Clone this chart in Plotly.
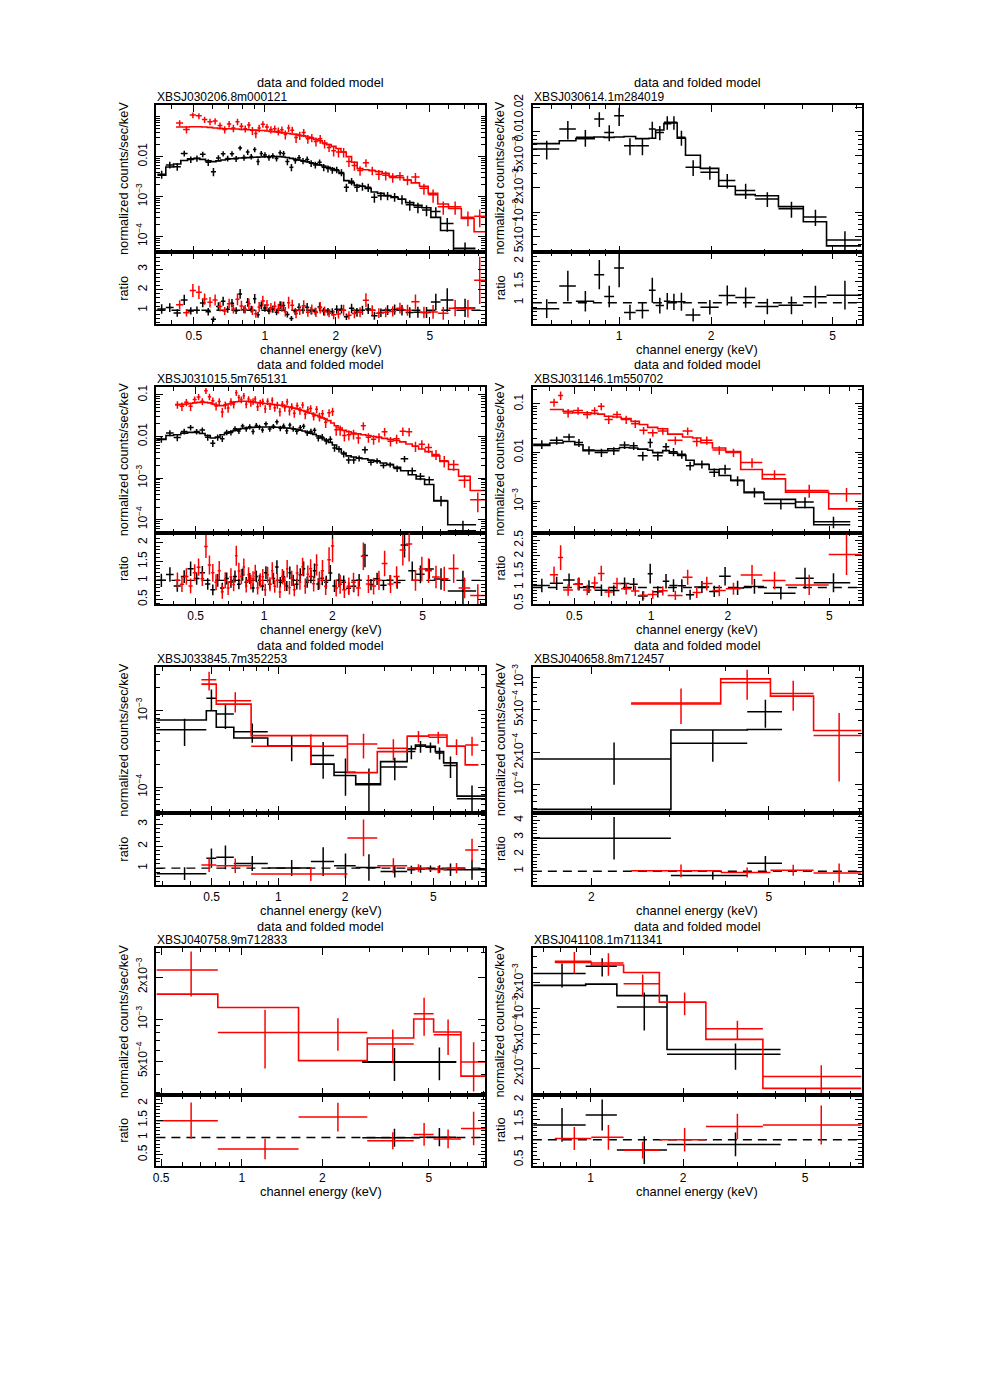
import plotly.graph_objects as go

# ------------------------------------------------------------------ data
# Each series: bin edges (keV), data (counts/s/keV), 1-sigma error, folded model per bin.

# Panel 1
p1_name = "XBSJ030206.8m000121"
p1k_edges = [0.35, 0.38, 0.41, 0.44, 0.47, 0.50, 0.53, 0.56, 0.59, 0.62, 0.65, 0.68, 0.71, 0.74, 0.77, 0.80, 0.83, 0.86, 0.89, 0.92,
             0.95, 0.98, 1.02, 1.06, 1.10, 1.14, 1.18, 1.22, 1.27, 1.32, 1.37, 1.42, 1.48, 1.54, 1.60, 1.67, 1.74, 1.81, 1.89, 1.97,
             2.06, 2.16, 2.27, 2.39, 2.52, 2.66, 2.82, 3.00, 3.20, 3.42, 3.67, 3.95, 4.27, 4.63, 5.05, 5.55, 6.3, 7.8]
p1k_y = [0.0036, 0.0062, 0.0056, 0.0120, 0.0085, 0.0090, 0.0115, 0.0072, 0.0042, 0.0092,
         0.0118, 0.0090, 0.0118, 0.0088, 0.0165, 0.0095, 0.0130, 0.0100, 0.0150, 0.0075,
         0.0120, 0.0110, 0.0095, 0.0105, 0.0090, 0.0125, 0.0120, 0.0075, 0.0054, 0.0080,
         0.0094, 0.0078, 0.0085, 0.0068, 0.0062, 0.0072, 0.0054, 0.0050, 0.0046, 0.0047,
         0.0040, 0.0017, 0.0024, 0.0017, 0.0018, 0.0017, 0.00095, 0.00105, 0.00105, 0.00098,
         0.00085, 0.00062, 0.00054, 0.00046, 0.00042, 0.00021, 0.00005]
p1k_dy = [0.0008, 0.0012, 0.0012, 0.0020, 0.0016, 0.0016, 0.0018, 0.0014, 0.0010, 0.0016,
          0.0018, 0.0015, 0.0018, 0.0015, 0.0022, 0.0016, 0.0020, 0.0016, 0.0022, 0.0014,
          0.0018, 0.0018, 0.0016, 0.0017, 0.0015, 0.0019, 0.0019, 0.0014, 0.0011, 0.0014,
          0.0016, 0.0014, 0.0015, 0.0013, 0.0012, 0.0013, 0.0011, 0.0010, 0.0009, 0.0009,
          0.0008, 0.0004, 0.0005, 0.0004, 0.0004, 0.0004, 0.00025, 0.00025, 0.00025, 0.00024,
          0.00022, 0.00018, 0.00016, 0.00014, 0.00012, 0.00008, 0.00002]
p1k_mod = [0.0034, 0.0055, 0.0065, 0.0080, 0.0088, 0.0090, 0.0085, 0.0078, 0.0075, 0.0078,
           0.0082, 0.0086, 0.0088, 0.0090, 0.0092, 0.0093, 0.0094, 0.0095, 0.0096, 0.0097,
           0.0098, 0.0099, 0.0099, 0.0100, 0.0100, 0.0100, 0.0098, 0.0095, 0.0090, 0.0086,
           0.0082, 0.0078, 0.0074, 0.0070, 0.0066, 0.0062, 0.0058, 0.0054, 0.0050, 0.0045,
           0.0038, 0.0025, 0.0022, 0.0019, 0.0018, 0.0016, 0.0013, 0.0012, 0.00105, 0.00095,
           0.00085, 0.00070, 0.00060, 0.00052, 0.00030, 0.00014, 0.000045]
p1r_edges = [0.42, 0.45, 0.48, 0.51, 0.54, 0.57, 0.60, 0.63, 0.66, 0.69, 0.72, 0.75, 0.78, 0.81, 0.84, 0.87, 0.90, 0.93, 0.96,
             1.00, 1.04, 1.08, 1.12, 1.16, 1.20, 1.24, 1.28, 1.33, 1.38, 1.43, 1.49, 1.55, 1.61, 1.68, 1.75, 1.83, 1.91, 2.00,
             2.10, 2.21, 2.33, 2.46, 2.60, 2.76, 2.94, 3.14, 3.36, 3.60, 3.87, 4.17, 4.52, 4.92, 5.40, 6.0, 6.8, 7.7, 8.57]
p1r_y = [0.070, 0.048, 0.110, 0.105, 0.085, 0.075, 0.078, 0.060, 0.048, 0.066,
         0.052, 0.075, 0.058, 0.050, 0.062, 0.045, 0.038, 0.052, 0.065, 0.055,
         0.048, 0.050, 0.044, 0.047, 0.036, 0.052, 0.046, 0.030, 0.034, 0.040,
         0.028, 0.030, 0.024, 0.028, 0.021, 0.017, 0.014, 0.013, 0.0130, 0.0075,
         0.0060, 0.0045, 0.0070, 0.0045, 0.0036, 0.0034, 0.0030, 0.0033, 0.0026, 0.0031,
         0.0016, 0.0011, 0.00055, 0.00055, 0.00030, 0.00032]
p1r_dy = [0.012, 0.010, 0.018, 0.018, 0.015, 0.014, 0.014, 0.012, 0.010, 0.012,
          0.011, 0.014, 0.012, 0.010, 0.012, 0.010, 0.009, 0.011, 0.012, 0.011,
          0.010, 0.010, 0.010, 0.010, 0.009, 0.011, 0.010, 0.008, 0.008, 0.009,
          0.007, 0.007, 0.006, 0.007, 0.005, 0.004, 0.004, 0.0035, 0.0035, 0.0020,
          0.0016, 0.0012, 0.0016, 0.0011, 0.0010, 0.0009, 0.0008, 0.0008, 0.0007, 0.0008,
          0.0005, 0.0004, 0.0002, 0.0002, 0.00012, 0.00015]
p1r_mod = [0.055, 0.055, 0.056, 0.056, 0.055, 0.054, 0.052, 0.051, 0.050, 0.050,
           0.049, 0.049, 0.048, 0.048, 0.047, 0.046, 0.046, 0.045, 0.045, 0.044,
           0.043, 0.042, 0.041, 0.040, 0.039, 0.038, 0.037, 0.036, 0.034, 0.033,
           0.031, 0.029, 0.027, 0.025, 0.022, 0.020, 0.018, 0.016, 0.013, 0.010,
           0.0072, 0.0050, 0.0047, 0.0045, 0.0042, 0.0038, 0.0032, 0.0030, 0.0026, 0.0022,
           0.0018, 0.0012, 0.00065, 0.00050, 0.00028, 0.00013]

# Panel 2
p2_name = "XBSJ030614.1m284019"
p2k_edges = [0.522, 0.637, 0.722, 0.829, 0.894, 0.963, 1.038, 1.133, 1.252, 1.317, 1.402, 1.474, 1.550, 1.650, 1.846,
             2.119, 2.402, 2.791, 3.325, 4.011, 4.778, 6.2]
p2k_y = [0.0061, 0.0108, 0.0085, 0.0144, 0.0098, 0.0158, 0.0067, 0.0067, 0.0108, 0.0098, 0.0131, 0.0131, 0.0085,
         0.00361, 0.00313, 0.00247, 0.00186, 0.00146, 0.00110, 0.00087, 0.00045]
p2k_dy = [0.0016, 0.0028, 0.0020, 0.0030, 0.0022, 0.0040, 0.0016, 0.0016, 0.0025, 0.0020, 0.0025, 0.0025, 0.0018,
          0.0008, 0.0006, 0.0005, 0.0004, 0.0003, 0.00025, 0.0002, 0.00013]
p2k_mod = [0.0071, 0.0077, 0.0082, 0.0086, 0.0085, 0.0086, 0.0087, 0.0082, 0.0083, 0.0105, 0.0126, 0.0128, 0.0083,
           0.0051, 0.0035, 0.0021, 0.00165, 0.00160, 0.00117, 0.00076, 0.00038]

# Panel 3
p3_name = "XBSJ031015.5m765131"
p3k_edges = [0.336, 0.37, 0.40, 0.43, 0.46, 0.49, 0.52, 0.55, 0.58, 0.61, 0.64, 0.67, 0.70, 0.73, 0.76, 0.79, 0.82, 0.85,
             0.88, 0.91, 0.94, 0.97, 1.00, 1.04, 1.08, 1.12, 1.16, 1.20, 1.24, 1.28, 1.32, 1.37, 1.42, 1.47, 1.52, 1.58,
             1.64, 1.70, 1.77, 1.84, 1.92, 2.00, 2.09, 2.19, 2.30, 2.42, 2.55, 2.70, 2.87, 3.05, 3.25, 3.47, 3.72, 4.00,
             4.32, 4.68, 5.10, 5.60, 6.45, 8.6]
p3k_y = [0.0085, 0.0121, 0.0094, 0.0132, 0.0163, 0.0131, 0.0142, 0.0095, 0.0069, 0.0095,
         0.0088, 0.0126, 0.0124, 0.0154, 0.0135, 0.0178, 0.0152, 0.0171, 0.0132, 0.0184,
         0.0168, 0.0143, 0.0202, 0.0151, 0.0175, 0.0224, 0.0157, 0.0179, 0.0136, 0.0188,
         0.0153, 0.0133, 0.0163, 0.0176, 0.0122, 0.0132, 0.0140, 0.0092, 0.0097, 0.0078,
         0.0086, 0.0053, 0.0050, 0.0038, 0.0027, 0.0027, 0.0030, 0.0048, 0.0024, 0.0026,
         0.0020, 0.0021, 0.0017, 0.0029, 0.0015, 0.0011, 0.00091, 0.00029, 0.000054]
p3k_dy = [0.0015, 0.0020, 0.0017, 0.0020, 0.0024, 0.0020, 0.0021, 0.0016, 0.0013, 0.0016,
          0.0015, 0.0019, 0.0019, 0.0022, 0.0020, 0.0025, 0.0022, 0.0024, 0.0020, 0.0025,
          0.0024, 0.0021, 0.0028, 0.0022, 0.0025, 0.0030, 0.0023, 0.0025, 0.0021, 0.0026,
          0.0023, 0.0021, 0.0024, 0.0026, 0.0019, 0.0021, 0.0022, 0.0016, 0.0017, 0.0014,
          0.0015, 0.0010, 0.0009, 0.0007, 0.0005, 0.0005, 0.0005, 0.0009, 0.0004, 0.0004,
          0.0003, 0.0003, 0.0003, 0.0005, 0.0003, 0.00022, 0.00018, 0.00008, 0.00004]
p3k_mod = [0.0085, 0.0105, 0.0110, 0.0120, 0.0125, 0.0125, 0.0118, 0.0105, 0.0092, 0.0095,
           0.0110, 0.0120, 0.0130, 0.0140, 0.0150, 0.0155, 0.0160, 0.0163, 0.0165, 0.0167,
           0.0168, 0.0168, 0.0168, 0.0168, 0.0167, 0.0166, 0.0165, 0.0163, 0.0160, 0.0157,
           0.0153, 0.0148, 0.0142, 0.0135, 0.0128, 0.0120, 0.0112, 0.0102, 0.0092, 0.0082,
           0.0072, 0.0062, 0.0050, 0.0040, 0.0034, 0.0032, 0.0030, 0.0029, 0.0027, 0.0025,
           0.0023, 0.0021, 0.0018, 0.0015, 0.0012, 0.00095, 0.00070, 0.00028, 0.000075]
p3r_edges = [0.406, 0.425, 0.445, 0.465, 0.485, 0.505, 0.525, 0.545, 0.565, 0.585,
             0.605, 0.625, 0.645, 0.665, 0.685, 0.705, 0.725, 0.745, 0.765, 0.785,
             0.805, 0.825, 0.845, 0.865, 0.885, 0.905, 0.925, 0.95, 0.975, 1.00,
             1.025, 1.05, 1.075, 1.10, 1.13, 1.16, 1.19, 1.22, 1.25, 1.28,
             1.31, 1.34, 1.38, 1.42, 1.46, 1.50, 1.54, 1.58, 1.63, 1.68,
             1.73, 1.78, 1.84, 1.90, 1.97, 2.04, 2.12, 2.21, 2.31, 2.42,
             2.54, 2.67, 2.81, 2.96, 3.12, 3.30, 3.50, 3.72, 3.96, 4.22,
             4.50, 4.80, 5.12, 5.50, 5.95, 6.50, 7.20, 8.10, 9.40]
p3r_y = [0.058, 0.053, 0.066, 0.053, 0.077, 0.089, 0.070, 0.125, 0.090, 0.072,
         0.054, 0.069, 0.0385, 0.057, 0.048, 0.069, 0.059, 0.112, 0.086, 0.077,
         0.0945, 0.0595, 0.079, 0.065, 0.070, 0.079, 0.052, 0.064, 0.069, 0.0465,
         0.070, 0.054, 0.074, 0.049, 0.057, 0.039, 0.0605, 0.049, 0.068, 0.041,
         0.0525, 0.036, 0.055, 0.042, 0.057, 0.034, 0.044, 0.047, 0.031, 0.045,
         0.030, 0.035, 0.022, 0.037, 0.040, 0.0144, 0.0144, 0.0105, 0.011, 0.0114,
         0.0092, 0.018, 0.0095, 0.0085, 0.0095, 0.013, 0.0077, 0.0088, 0.0133, 0.0129,
         0.0058, 0.0065, 0.0054, 0.0037, 0.0026, 0.0021, 0.00088, 0.0003]
p3r_dy = [0.012, 0.012, 0.013, 0.012, 0.014, 0.015, 0.013, 0.020, 0.016, 0.014,
          0.012, 0.014, 0.010, 0.012, 0.011, 0.014, 0.012, 0.018, 0.015, 0.014,
          0.016, 0.012, 0.014, 0.013, 0.013, 0.014, 0.011, 0.012, 0.013, 0.010,
          0.013, 0.011, 0.013, 0.010, 0.011, 0.009, 0.011, 0.010, 0.012, 0.009,
          0.010, 0.008, 0.010, 0.009, 0.010, 0.008, 0.009, 0.009, 0.007, 0.009,
          0.007, 0.008, 0.006, 0.008, 0.009, 0.004, 0.004, 0.003, 0.003, 0.003,
          0.0025, 0.004, 0.0025, 0.0022, 0.0024, 0.003, 0.002, 0.0022, 0.003, 0.003,
          0.0016, 0.0016, 0.0014, 0.001, 0.0008, 0.0006, 0.0003, 0.00015]
p3r_mod = [0.058, 0.059, 0.060, 0.062, 0.064, 0.066, 0.067, 0.066, 0.064, 0.060,
           0.057, 0.055, 0.055, 0.057, 0.060, 0.063, 0.066, 0.068, 0.069, 0.070,
           0.070, 0.070, 0.069, 0.068, 0.067, 0.066, 0.065, 0.064, 0.063, 0.062,
           0.061, 0.060, 0.059, 0.058, 0.057, 0.056, 0.055, 0.054, 0.052, 0.051,
           0.050, 0.048, 0.046, 0.044, 0.042, 0.040, 0.038, 0.036, 0.034, 0.032,
           0.030, 0.028, 0.026, 0.024, 0.021, 0.018, 0.016, 0.014, 0.013, 0.012,
           0.0115, 0.011, 0.0105, 0.0100, 0.0095, 0.0090, 0.0085, 0.0080, 0.0074, 0.0066,
           0.0058, 0.0050, 0.0043, 0.0034, 0.0025, 0.0016, 0.0011, 0.0005]

# Panel 4
p4_name = "XBSJ031146.1m550702"
p4k_edges = [0.345, 0.401, 0.452, 0.502, 0.541, 0.601, 0.677, 0.752, 0.823, 0.887, 0.970, 1.015, 1.111, 1.179,
             1.271, 1.370, 1.476, 1.690, 1.849, 2.054, 2.316, 2.772, 3.686, 4.345, 6.042]
p4k_y = [0.0149, 0.0179, 0.0210, 0.0161, 0.0113, 0.0101, 0.0109, 0.0144, 0.0138, 0.00863, 0.0161, 0.00863,
         0.0132, 0.0104, 0.0093, 0.0054, 0.0058, 0.00395, 0.00462, 0.00267, 0.00155, 0.00090, 0.00097, 0.00038]
p4k_dy = [0.0030, 0.0033, 0.0035, 0.0030, 0.0022, 0.0020, 0.0020, 0.0025, 0.0025, 0.0018, 0.0035, 0.0018,
          0.0025, 0.0020, 0.0018, 0.0011, 0.0011, 0.0008, 0.0010, 0.0006, 0.00035, 0.00022, 0.00025, 0.00010]
p4k_mod = [0.0140, 0.0158, 0.0170, 0.0145, 0.0110, 0.0110, 0.0120, 0.0128, 0.0125, 0.0118, 0.0112, 0.0100,
           0.0110, 0.0098, 0.0088, 0.0070, 0.0057, 0.0045, 0.0034, 0.0027, 0.00150, 0.00110, 0.00075, 0.00033]
p4r_edges = [0.401, 0.432, 0.452, 0.494, 0.541, 0.583, 0.619, 0.657, 0.708, 0.763, 0.835, 0.900, 0.970, 1.062,
             1.162, 1.329, 1.455, 1.568, 1.741, 1.963, 2.247, 2.731, 3.368, 4.974, 6.71]
p4r_y = [0.108, 0.150, 0.0656, 0.0731, 0.0607, 0.0731, 0.0897, 0.0480, 0.0607, 0.0480, 0.0392, 0.0287,
         0.0257, 0.0278, 0.0180, 0.0278, 0.0169, 0.0180, 0.0113, 0.0101, 0.0063, 0.00354, 0.00168, 0.00143]
p4r_dy = [0.020, 0.030, 0.013, 0.013, 0.011, 0.013, 0.015, 0.009, 0.010, 0.009, 0.007, 0.005,
          0.0045, 0.0045, 0.0035, 0.005, 0.0035, 0.0035, 0.0022, 0.002, 0.0014, 0.0008, 0.0005, 0.00045]
p4r_mod = [0.077, 0.077, 0.071, 0.066, 0.066, 0.064, 0.062, 0.056, 0.054, 0.050, 0.044, 0.038,
           0.033, 0.031, 0.024, 0.021, 0.020, 0.016, 0.0125, 0.0105, 0.0045, 0.0029, 0.00155, 0.00070]

# Panel 5
p5_name = "XBSJ033845.7m352253"
p5k_edges = [0.282, 0.4735, 0.525, 0.630, 0.896, 1.402, 1.784, 2.234, 2.892, 3.812, 4.153, 4.605, 5.107, 5.566, 6.391, 8.56]
p5k_y = [5.65e-4, 1.45e-3, 9.06e-4, 5.32e-4, 3.43e-4, 2.59e-4, 1.57e-4, 1.11e-4, 1.83e-4, 2.92e-4, 3.43e-4,
         3.33e-4, 2.81e-4, 1.92e-4, 7.06e-5]
p5k_dy = [2.2e-4, 4.4e-4, 3.3e-4, 1.5e-4, 1.25e-4, 1.3e-4, 0.8e-4, 0.65e-4, 0.6e-4, 0.6e-4, 0.6e-4,
          0.5e-4, 0.5e-4, 0.6e-4, 3.5e-5]
p5k_mod = [7.56e-4, 1.0e-3, 6.08e-4, 4.4e-4, 3.43e-4, 2.0e-4, 1.42e-4, 1.08e-4, 2.16e-4, 3.17e-4, 3.57e-4,
           3.43e-4, 2.92e-4, 2.08e-4, 7.65e-5]
p5r_edges = [0.4497, 0.525, 0.754, 2.05, 2.795, 3.812, 4.764, 5.764, 6.965, 7.99]
p5r_y = [2.54e-3, 1.35e-3, 3.43e-4, 3.68e-4, 3.24e-4, 4.64e-4, 4.5e-4, 3.43e-4, 3.57e-4]
p5r_dy = [7e-4, 4e-4, 1.5e-4, 1.3e-4, 1.0e-4, 0.8e-4, 0.8e-4, 0.8e-4, 1.0e-4]
p5r_mod = [2.23e-3, 1.22e-3, 4.72e-4, 1.55e-4, 2.92e-4, 4.64e-4, 4.82e-4, 3.43e-4, 1.96e-4]

# Panel 6
p6_name = "XBSJ040658.8m712457"
p6k_edges = [1.482, 3.017, 4.474, 5.354]
p6k_y = [1.74e-4, 2.44e-4, 4.8e-4]
p6k_dy = [7.4e-5, 8e-5, 1.4e-4]
p6k_mod = [5.9e-5, 3.24e-4, 3.27e-4]
p6r_edges = [2.456, 3.901, 5.044, 6.302, 8.08]
p6r_y = [5.78e-4, 8.99e-4, 7.1e-4, 2.87e-4]
p6r_dy = [2.1e-4, 2.8e-4, 2.2e-4, 1.8e-4]
p6r_mod = [5.65e-4, 9.7e-4, 6.7e-4, 3.2e-4]

# Panel 7
p7_name = "XBSJ040758.9m712833"
p7k_edges = [2.82, 4.62, 6.33]
p7k_y = [4.9e-4, 4.95e-4]
p7k_dy = [1.3e-4, 1.3e-4]
p7k_mod = [4.95e-4, 4.9e-4]
p7r_edges = [0.480, 0.814, 1.630, 2.944, 4.390, 5.21, 6.59, 8.11]
p7r_y = [2.25e-3, 8.03e-4, 8.03e-4, 6.63e-4, 1.09e-3, 7.73e-4, 4.93e-4]
p7r_dy = [8e-4, 3.6e-4, 2.1e-4, 1.8e-4, 3.3e-4, 2.2e-4, 1.9e-4]
p7r_mod = [1.51e-3, 1.21e-3, 5.04e-4, 7.32e-4, 1.0e-3, 8.07e-4, 3.9e-4]

# Panel 8
p8_name = "XBSJ041108.1m711341"
p8k_edges = [0.650, 0.963, 1.217, 1.773, 4.155]
p8k_y = [2.56e-3, 3.12e-3, 1.05e-3, 2.96e-4]
p8k_dy = [7.9e-4, 7.5e-4, 4.9e-4, 1.0e-4]
p8k_mod = [1.87e-3, 1.93e-3, 1.42e-3, 3.36e-4]
p8r_edges = [0.764, 1.005, 1.280, 1.674, 2.373, 3.64, 7.64]
p8r_y = [3.56e-3, 3.41e-3, 1.95e-3, 1.19e-3, 5.86e-4, 1.63e-4]
p8r_dy = [1.0e-3, 1.0e-3, 5.5e-4, 3.5e-4, 1.4e-4, 5.8e-5]
p8r_mod = [3.46e-3, 3.22e-3, 2.64e-3, 1.19e-3, 4.41e-4, 1.19e-4]

# Tick labels
M = "\u2212"
def dec(e):
    return "10<sup>" + M + str(e) + "</sup>"

BLACK = "#000000"
RED = "#ff0000"

PANELS = [
    dict(name=p1_name, series=[(p1k_edges, p1k_y, p1k_dy, p1k_mod, BLACK), (p1r_edges, p1r_y, p1r_dy, p1r_mod, RED)],
         xr=[-0.46, 0.933], yr=[-4.4, -0.70], rr=[0.32, 3.83], xt=[0.5, 1, 2, 5],
         yt=[1e-4, 1e-3, 1e-2], ytt=[dec(4), dec(3), "0.01"], rt=[1, 2, 3], rminor=0.2),
    dict(name=p2_name, series=[(p2k_edges, p2k_y, p2k_dy, p2k_mod, BLACK)],
         xr=[-0.2823, 0.7938], yr=[-3.5, -1.665], rr=[0.49, 2.21], xt=[1, 2, 5],
         yt=[5e-4, 1e-3, 2e-3, 5e-3, 1e-2, 2e-2],
         ytt=["5x" + dec(4), dec(3), "2x" + dec(3), "5x" + dec(3), "0.01", "0.02"], rt=[1, 1.5, 2], rminor=0.1),
    dict(name=p3_name, series=[(p3k_edges, p3k_y, p3k_dy, p3k_mod, BLACK), (p3r_edges, p3r_y, p3r_dy, p3r_mod, RED)],
         xr=[-0.474, 0.974], yr=[-4.31, -0.81], rr=[0.37, 2.26], xt=[0.5, 1, 2, 5],
         yt=[1e-4, 1e-3, 1e-2, 0.1], ytt=[dec(4), dec(3), "0.01", "0.1"], rt=[0.5, 1, 1.5, 2], rminor=0.1),
    dict(name=p4_name, series=[(p4k_edges, p4k_y, p4k_dy, p4k_mod, BLACK), (p4r_edges, p4r_y, p4r_dy, p4r_mod, RED)],
         xr=[-0.4634, 0.8254], yr=[-3.64, -0.65], rr=[0.47, 2.74], xt=[0.5, 1, 2, 5],
         yt=[1e-3, 1e-2, 0.1], ytt=[dec(3), "0.01", "0.1"], rt=[0.5, 1, 1.5, 2, 2.5], rminor=0.1),
    dict(name=p5_name, series=[(p5k_edges, p5k_y, p5k_dy, p5k_mod, BLACK), (p5r_edges, p5r_y, p5r_dy, p5r_mod, RED)],
         xr=[-0.5498, 0.9325], yr=[-4.34, -2.43], rr=[0.23, 3.5], xt=[0.5, 1, 2, 5],
         yt=[1e-4, 1e-3], ytt=[dec(4), dec(3)], rt=[1, 2, 3], rminor=0.2),
    dict(name=p6_name, series=[(p6k_edges, p6k_y, p6k_dy, p6k_mod, BLACK), (p6r_edges, p6r_y, p6r_dy, p6r_mod, RED)],
         xr=[0.170, 0.907], yr=[-4.265, -2.904], rr=[0.19, 4.42], xt=[2, 5],
         yt=[1e-4, 2e-4, 5e-4, 1e-3], ytt=[dec(4), "2x" + dec(4), "5x" + dec(4), dec(3)], rt=[1, 2, 3, 4], rminor=0.2),
    dict(name=p7_name, series=[(p7k_edges, p7k_y, p7k_dy, p7k_mod, BLACK), (p7r_edges, p7r_y, p7r_dy, p7r_mod, RED)],
         xr=[-0.3188, 0.9090], yr=[-3.543, -2.493], rr=[0.18, 2.24], xt=[0.5, 1, 2, 5],
         yt=[5e-4, 1e-3, 2e-3], ytt=["5x" + dec(4), dec(3), "2x" + dec(3)], rt=[0.5, 1, 1.5, 2], rminor=0.1),
    dict(name=p8_name, series=[(p8k_edges, p8k_y, p8k_dy, p8k_mod, BLACK), (p8r_edges, p8r_y, p8r_dy, p8r_mod, RED)],
         xr=[-0.1884, 0.8825], yr=[-4.0, -2.298], rr=[0.35, 2.12], xt=[1, 2, 5],
         yt=[2e-4, 5e-4, 1e-3, 2e-3], ytt=["2x" + dec(4), "5x" + dec(4), dec(3), "2x" + dec(3)],
         rt=[0.5, 1, 1.5, 2], rminor=0.1),
]

# ------------------------------------------------------------------ layout geometry (target pixels)
W, H = 981, 1386
COLS = [(155, 485), (533, 863)]
ROWS = [(104, 252, 324), (387, 533, 605), (668, 814.5, 886.5), (950, 1097, 1168)]
FONT = "Liberation Sans, Arial, Helvetica, sans-serif"
FS = 12
# calibration of the page placement observed in the rendered picture
X_OFF = 10.0
Y_OFF = 18.0
Y_SCALE = 0.9906


def fx(p):
    return (p - X_OFF) / W


def fy(p):
    return 1 - ((p - Y_OFF) / Y_SCALE) / H


def log_minor(lo, hi, majors):
    vals = []
    for e in range(-6, 2):
        for m in range(1, 10):
            v = m * 10.0 ** e
            if 10 ** lo < v < 10 ** hi and not any(abs(v - t) / t < 1e-6 for t in majors):
                vals.append(v)
    return vals


def fmt(v):
    return "%g" % v


fig = go.Figure()
layout = dict(width=W, height=H, margin=dict(l=0, r=0, t=0, b=0), paper_bgcolor="white",
              plot_bgcolor="white", showlegend=False, font=dict(family=FONT, size=FS, color="black"))
shapes = []
annotations = []

base = dict(showline=True, linecolor="black", linewidth=1.5, mirror="allticks", ticks="inside",
            tickcolor="black", tickwidth=1.2, showgrid=False, zeroline=False,
            tickfont=dict(family=FONT, size=FS, color="black"))

for i, p in enumerate(PANELS):
    col, row = i % 2, i // 2
    c0, c1 = COLS[col]
    top, mid, bot = ROWS[row]
    nt, nr = 2 * i + 1, 2 * i + 2
    xt_id = "x" if nt == 1 else "x%d" % nt
    yt_id = "y" if nt == 1 else "y%d" % nt
    xr_id, yr_id = "x%d" % nr, "y%d" % nr
    xt_key = "xaxis" if nt == 1 else "xaxis%d" % nt
    yt_key = "yaxis" if nt == 1 else "yaxis%d" % nt

    xminor = log_minor(p["xr"][0], p["xr"][1], p["xt"])
    yminor = log_minor(p["yr"][0], p["yr"][1], p["yt"])

    xcommon = dict(base, type="log", range=p["xr"], domain=[fx(c0), fx(c1)], tickmode="array",
                   tickvals=p["xt"], ticktext=[fmt(v) for v in p["xt"]], ticklen=7,
                   minor=dict(tickmode="array", tickvals=xminor, ticks="inside", ticklen=4,
                              tickcolor="black", tickwidth=1.2))
    layout[xt_key] = dict(xcommon, anchor=yt_id, showticklabels=False)
    layout["xaxis%d" % nr] = dict(xcommon, anchor=yr_id, showticklabels=True, matches=xt_id)
    layout[yt_key] = dict(base, type="log", range=p["yr"], domain=[fy(mid), fy(top)], anchor=xt_id,
                          tickmode="array", tickvals=p["yt"], ticktext=p["ytt"], tickangle=-90, ticklen=7,
                          ticklabelstandoff=3,
                          minor=dict(tickmode="array", tickvals=yminor, ticks="inside", ticklen=4,
                                     tickcolor="black", tickwidth=1.2))
    layout["yaxis%d" % nr] = dict(base, range=p["rr"], domain=[fy(bot), fy(mid)], anchor=xr_id,
                                  tickmode="array", tickvals=p["rt"], ticktext=[fmt(v) for v in p["rt"]],
                                  tickangle=-90, ticklen=7, ticklabelstandoff=3,
                                  minor=dict(dtick=p["rminor"], tick0=0, ticks="inside", ticklen=4,
                                             tickcolor="black", tickwidth=1.2))

    # dashed unity line in ratio panel
    shapes.append(dict(type="line", xref="%s domain" % xr_id, x0=0, x1=1, yref=yr_id, y0=1, y1=1,
                       line=dict(color="black", width=1.4, dash="9px,6px"), layer="below"))

    for edges, y, dy, mod, color in p["series"]:
        lo, hi = edges[:-1], edges[1:]
        c = [(a + b) / 2 for a, b in zip(lo, hi)]
        ep = [b - m for b, m in zip(hi, c)]
        em = [m - a for a, m in zip(lo, c)]
        ex = dict(type="data", symmetric=False, array=ep, arrayminus=em, color=color, thickness=1.5, width=0)
        # model histogram
        fig.add_trace(go.Scatter(x=list(lo) + [hi[-1]], y=list(mod) + [mod[-1]], mode="lines",
                                 line=dict(color=color, width=1.6, shape="hv"), xaxis=xt_id, yaxis=yt_id,
                                 hoverinfo="skip"))
        # data crosses
        fig.add_trace(go.Scatter(x=c, y=y, mode="markers", marker=dict(size=1, color=color),
                                 error_x=ex,
                                 error_y=dict(type="data", array=dy, color=color, thickness=1.5, width=0),
                                 xaxis=xt_id, yaxis=yt_id))
        # ratio crosses
        ratio = [a / b for a, b in zip(y, mod)]
        rerr = [a / b for a, b in zip(dy, mod)]
        fig.add_trace(go.Scatter(x=c, y=ratio, mode="markers", marker=dict(size=1, color=color),
                                 error_x=ex,
                                 error_y=dict(type="data", array=rerr, color=color, thickness=1.5, width=0),
                                 xaxis=xr_id, yaxis=yr_id))

    cx = (c0 + c1) / 2
    tf = dict(family=FONT, size=FS, color="black")
    tf2 = dict(family=FONT, size=12.8, color="black")
    annotations += [
        dict(text="data and folded model", x=fx(cx), y=fy(top - 22), xref="paper", yref="paper",
             showarrow=False, xanchor="center", yanchor="middle", font=tf2),
        dict(text=p["name"], x=fx(c0 - 1), y=fy(top - 8), xref="paper", yref="paper",
             showarrow=False, xanchor="left", yanchor="middle", font=tf),
        dict(text="normalized counts/sec/keV", x=fx(c0 - 33), y=fy((top + mid) / 2), xref="paper",
             yref="paper", showarrow=False, xanchor="center", yanchor="middle", textangle=-90, font=tf2),
        dict(text="ratio", x=fx(c0 - 33), y=fy((mid + bot) / 2), xref="paper", yref="paper",
             showarrow=False, xanchor="center", yanchor="middle", textangle=-90, font=tf2),
        dict(text="channel energy (keV)", x=fx(cx), y=fy(bot + 25.5), xref="paper", yref="paper",
             showarrow=False, xanchor="center", yanchor="middle", font=tf2),
    ]

layout["shapes"] = shapes
layout["annotations"] = annotations
fig.update_layout(**layout)
fig.write_html("out.html")
